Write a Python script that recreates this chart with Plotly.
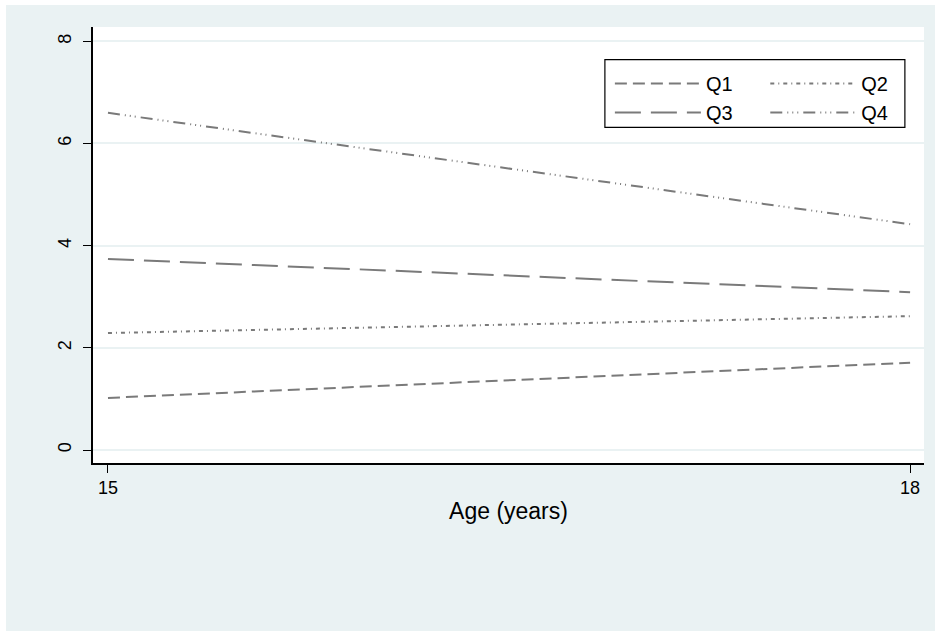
import plotly.graph_objects as go

age = [15, 18]
q1 = [1.02, 1.71]
q2 = [2.29, 2.62]
q3 = [3.74, 3.09]
q4 = [6.60, 4.42]
names = ["Q1", "Q2", "Q3", "Q4"]
series = [q1, q2, q3, q4]
dashes = ["12px,6px", "4px,4px,1px,4px", "26px,10px", "12px,5px,1px,4px,1px,4px,1px,5px"]
legend_ids = ["legend", "legend2", "legend", "legend2"]

fig = go.Figure()
for n, s, d, lg in zip(names, series, dashes, legend_ids):
    fig.add_trace(go.Scatter(x=age, y=s, mode="lines", name=n, legend=lg,
                             line=dict(color="#7a7a7a", width=2, dash=d)))

bg = "#EAF2F3"
leg_common = dict(orientation="v", yanchor="top", xanchor="left",
                  bgcolor="rgba(0,0,0,0)", borderwidth=0,
                  itemwidth=86, font=dict(size=20), tracegroupgap=0)
fig.update_layout(
    width=940, height=640,
    paper_bgcolor=bg, plot_bgcolor="white",
    margin=dict(l=87, r=22, t=22, b=182),
    font=dict(family="Liberation Sans, Arial, sans-serif", color="black", size=17),
    showlegend=True,
    legend=dict(x=0.622, y=0.915, **leg_common),
    legend2=dict(x=0.809, y=0.915, **leg_common),
    shapes=[dict(type="rect", xref="paper", yref="paper",
                 x0=0.616, x1=0.977, y0=0.77, y1=0.925,
                 line=dict(color="black", width=1.2), fillcolor="white",
                 layer="above")],
    xaxis=dict(range=[14.944, 18.052], tickvals=[15, 18], ticks="outside",
               ticklen=8, tickcolor="black", showline=True, linecolor="black",
               linewidth=1.5, showgrid=False, zeroline=False,
               tickfont=dict(size=18),
               title=dict(text="Age (years)", font=dict(size=23), standoff=6)),
    yaxis=dict(range=[-0.254, 8.28], tickvals=[0, 2, 4, 6, 8], ticks="outside",
               ticklen=8, tickcolor="black", showline=True, linecolor="black",
               linewidth=1.5, showgrid=True, gridcolor=bg, gridwidth=1.5,
               zeroline=False, tickangle=-90, tickfont=dict(size=18),
               ticklabelstandoff=5),
)

post = (
    "document.documentElement.style.background='" + bg + "';"
    "document.body.style.margin='5px 0 0 6px';"
    "document.body.style.overflow='hidden';"
    "document.documentElement.style.overflow='hidden';"
    "var t=document.createElement('div');"
    "t.style.cssText='position:fixed;left:0;top:0;width:100%;height:5px;background:#fff;z-index:10';"
    "document.body.appendChild(t);"
    "var l=document.createElement('div');"
    "l.style.cssText='position:fixed;left:0;top:0;width:6px;height:100%;background:#fff;z-index:10';"
    "document.body.appendChild(l);"
)
fig.write_html("out.html", post_script=post)
